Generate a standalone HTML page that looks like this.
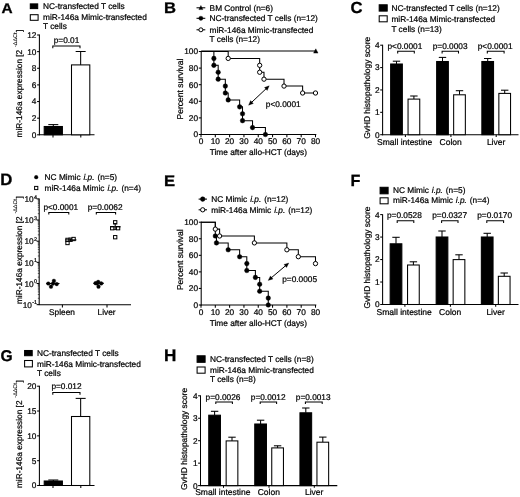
<!DOCTYPE html>
<html><head><meta charset="utf-8"><title>Figure</title>
<style>
html,body{margin:0;padding:0;background:#fff;overflow:hidden}
svg{display:block;will-change:transform}
text{font-family:"Liberation Sans",sans-serif;fill:#000;stroke:#000;stroke-width:0.22px;text-rendering:geometricPrecision}
</style></head>
<body>
<svg width="520" height="497" viewBox="0 0 520 497">
<rect x="0" y="0" width="520" height="497" fill="#fff"/>
<text transform="translate(1.40 13.40) scale(1.1 1)" font-size="14" font-weight="bold" style="stroke-width:0.3px">A</text>
<line x1="39.40" y1="34.60" x2="39.40" y2="135.25" stroke="#000" stroke-width="1.05"/>
<line x1="38.95" y1="134.80" x2="94.50" y2="134.80" stroke="#000" stroke-width="1.05"/>
<line x1="37.10" y1="134.80" x2="39.40" y2="134.80" stroke="#000" stroke-width="1.05"/>
<text x="36.40" y="137.70" font-size="8.3" text-anchor="end">0</text>
<line x1="37.10" y1="118.17" x2="39.40" y2="118.17" stroke="#000" stroke-width="1.05"/>
<text x="36.40" y="121.07" font-size="8.3" text-anchor="end">2</text>
<line x1="37.10" y1="101.53" x2="39.40" y2="101.53" stroke="#000" stroke-width="1.05"/>
<text x="36.40" y="104.43" font-size="8.3" text-anchor="end">4</text>
<line x1="37.10" y1="84.90" x2="39.40" y2="84.90" stroke="#000" stroke-width="1.05"/>
<text x="36.40" y="87.80" font-size="8.3" text-anchor="end">6</text>
<line x1="37.10" y1="68.27" x2="39.40" y2="68.27" stroke="#000" stroke-width="1.05"/>
<text x="36.40" y="71.17" font-size="8.3" text-anchor="end">8</text>
<line x1="37.10" y1="51.63" x2="39.40" y2="51.63" stroke="#000" stroke-width="1.05"/>
<text x="36.40" y="54.53" font-size="8.3" text-anchor="end">10</text>
<line x1="37.10" y1="35.00" x2="39.40" y2="35.00" stroke="#000" stroke-width="1.05"/>
<text x="36.40" y="37.90" font-size="8.3" text-anchor="end">12</text>
<line x1="53.00" y1="134.80" x2="53.00" y2="137.40" stroke="#000" stroke-width="1.05"/>
<line x1="80.80" y1="134.80" x2="80.80" y2="137.40" stroke="#000" stroke-width="1.05"/>
<line x1="53.30" y1="124.60" x2="53.30" y2="126.50" stroke="#000" stroke-width="1.05"/>
<line x1="48.30" y1="124.60" x2="58.30" y2="124.60" stroke="#000" stroke-width="1.05"/>
<rect x="44.20" y="126.50" width="18.20" height="8.30" fill="#000" stroke="#000" stroke-width="1.05"/>
<line x1="80.65" y1="51.50" x2="80.65" y2="64.90" stroke="#000" stroke-width="1.05"/>
<line x1="75.65" y1="51.50" x2="85.65" y2="51.50" stroke="#000" stroke-width="1.05"/>
<rect x="71.50" y="64.90" width="18.30" height="69.90" fill="#fff" stroke="#000" stroke-width="1.05"/>
<text x="66.50" y="42.80" font-size="8.3" text-anchor="middle">p=0.01</text>
<path d="M52.80 48.20V46.00H80.00V48.20" fill="none" stroke="#000" stroke-width="1.05" stroke-linejoin="miter"/>
<text transform="translate(22.20 137.40) rotate(-90)" font-size="8.3">miR-146a expression [2 <tspan font-size="5.4" dy="-5.0" dx="0.5" style="stroke-width:0.08px">-ΔΔCt</tspan><tspan dy="5.0" dx="0.7">]</tspan></text>
<rect x="30.30" y="3.90" width="7.40" height="4.70" fill="#000" stroke="#000" stroke-width="1.05"/>
<rect x="30.30" y="14.70" width="7.80" height="5.60" fill="#fff" stroke="#000" stroke-width="1.05"/>
<text x="43.00" y="9.00" font-size="8.3">NC-transfected T cells</text>
<text x="43.00" y="19.95" font-size="8.3">miR-146a Mimic-transfected</text>
<text x="43.00" y="28.95" font-size="8.3">T cells</text>
<text transform="translate(0.60 360.60) scale(1.0 1)" font-size="15.6" font-weight="bold" style="stroke-width:0.3px">G</text>
<line x1="39.40" y1="385.80" x2="39.40" y2="485.95" stroke="#000" stroke-width="1.05"/>
<line x1="38.95" y1="485.50" x2="94.50" y2="485.50" stroke="#000" stroke-width="1.05"/>
<line x1="37.10" y1="485.50" x2="39.40" y2="485.50" stroke="#000" stroke-width="1.05"/>
<text x="36.40" y="488.40" font-size="8.3" text-anchor="end">0</text>
<line x1="37.10" y1="460.68" x2="39.40" y2="460.68" stroke="#000" stroke-width="1.05"/>
<text x="36.40" y="463.57" font-size="8.3" text-anchor="end">5</text>
<line x1="37.10" y1="435.85" x2="39.40" y2="435.85" stroke="#000" stroke-width="1.05"/>
<text x="36.40" y="438.75" font-size="8.3" text-anchor="end">10</text>
<line x1="37.10" y1="411.02" x2="39.40" y2="411.02" stroke="#000" stroke-width="1.05"/>
<text x="36.40" y="413.92" font-size="8.3" text-anchor="end">15</text>
<line x1="37.10" y1="386.20" x2="39.40" y2="386.20" stroke="#000" stroke-width="1.05"/>
<text x="36.40" y="389.10" font-size="8.3" text-anchor="end">20</text>
<line x1="53.00" y1="485.50" x2="53.00" y2="488.10" stroke="#000" stroke-width="1.05"/>
<line x1="80.80" y1="485.50" x2="80.80" y2="488.10" stroke="#000" stroke-width="1.05"/>
<line x1="53.30" y1="480.00" x2="53.30" y2="481.00" stroke="#000" stroke-width="1.05"/>
<line x1="48.30" y1="480.00" x2="58.30" y2="480.00" stroke="#000" stroke-width="1.05"/>
<rect x="44.20" y="481.00" width="18.20" height="4.50" fill="#000" stroke="#000" stroke-width="1.05"/>
<line x1="80.65" y1="398.40" x2="80.65" y2="416.50" stroke="#000" stroke-width="1.05"/>
<line x1="75.65" y1="398.40" x2="85.65" y2="398.40" stroke="#000" stroke-width="1.05"/>
<rect x="71.50" y="416.50" width="18.30" height="69.00" fill="#fff" stroke="#000" stroke-width="1.05"/>
<text x="66.50" y="389.00" font-size="8.3" text-anchor="middle">p=0.012</text>
<path d="M52.80 394.70V392.50H80.00V394.70" fill="none" stroke="#000" stroke-width="1.05" stroke-linejoin="miter"/>
<text transform="translate(22.20 488.10) rotate(-90)" font-size="8.3">miR-146a expression [2 <tspan font-size="5.4" dy="-5.0" dx="0.5" style="stroke-width:0.08px">-ΔΔCt</tspan><tspan dy="5.0" dx="0.7">]</tspan></text>
<rect x="24.60" y="350.50" width="7.60" height="5.20" fill="#000" stroke="#000" stroke-width="1.05"/>
<rect x="24.60" y="360.50" width="7.80" height="6.40" fill="#fff" stroke="#000" stroke-width="1.05"/>
<text x="37.00" y="355.70" font-size="8.3">NC-transfected T cells</text>
<text x="37.00" y="366.80" font-size="8.3">miR-146a Mimic-transfected</text>
<text x="37.00" y="376.30" font-size="8.3">T cells</text>
<text transform="translate(164.10 13.20) scale(1.08 1)" font-size="15.4" font-weight="bold" style="stroke-width:0.3px">B</text>
<line x1="201.20" y1="51.05" x2="201.20" y2="134.95" stroke="#000" stroke-width="1.05"/>
<line x1="200.75" y1="134.50" x2="316.30" y2="134.50" stroke="#000" stroke-width="1.05"/>
<line x1="198.80" y1="134.50" x2="201.20" y2="134.50" stroke="#000" stroke-width="1.05"/>
<text x="198.00" y="137.40" font-size="8.3" text-anchor="end">0</text>
<line x1="198.80" y1="117.90" x2="201.20" y2="117.90" stroke="#000" stroke-width="1.05"/>
<text x="198.00" y="120.80" font-size="8.3" text-anchor="end">20</text>
<line x1="198.80" y1="101.30" x2="201.20" y2="101.30" stroke="#000" stroke-width="1.05"/>
<text x="198.00" y="104.20" font-size="8.3" text-anchor="end">40</text>
<line x1="198.80" y1="84.70" x2="201.20" y2="84.70" stroke="#000" stroke-width="1.05"/>
<text x="198.00" y="87.60" font-size="8.3" text-anchor="end">60</text>
<line x1="198.80" y1="68.10" x2="201.20" y2="68.10" stroke="#000" stroke-width="1.05"/>
<text x="198.00" y="71.00" font-size="8.3" text-anchor="end">80</text>
<line x1="198.80" y1="51.50" x2="201.20" y2="51.50" stroke="#000" stroke-width="1.05"/>
<text x="198.00" y="54.40" font-size="8.3" text-anchor="end">100</text>
<line x1="201.00" y1="134.50" x2="201.00" y2="137.20" stroke="#000" stroke-width="1.05"/>
<text x="201.00" y="144.30" font-size="8.3" text-anchor="middle">0</text>
<line x1="215.31" y1="134.50" x2="215.31" y2="137.20" stroke="#000" stroke-width="1.05"/>
<text x="215.31" y="144.30" font-size="8.3" text-anchor="middle">10</text>
<line x1="229.62" y1="134.50" x2="229.62" y2="137.20" stroke="#000" stroke-width="1.05"/>
<text x="229.62" y="144.30" font-size="8.3" text-anchor="middle">20</text>
<line x1="243.94" y1="134.50" x2="243.94" y2="137.20" stroke="#000" stroke-width="1.05"/>
<text x="243.94" y="144.30" font-size="8.3" text-anchor="middle">30</text>
<line x1="258.25" y1="134.50" x2="258.25" y2="137.20" stroke="#000" stroke-width="1.05"/>
<text x="258.25" y="144.30" font-size="8.3" text-anchor="middle">40</text>
<line x1="272.56" y1="134.50" x2="272.56" y2="137.20" stroke="#000" stroke-width="1.05"/>
<text x="272.56" y="144.30" font-size="8.3" text-anchor="middle">50</text>
<line x1="286.88" y1="134.50" x2="286.88" y2="137.20" stroke="#000" stroke-width="1.05"/>
<text x="286.88" y="144.30" font-size="8.3" text-anchor="middle">60</text>
<line x1="301.19" y1="134.50" x2="301.19" y2="137.20" stroke="#000" stroke-width="1.05"/>
<text x="301.19" y="144.30" font-size="8.3" text-anchor="middle">70</text>
<line x1="315.50" y1="134.50" x2="315.50" y2="137.20" stroke="#000" stroke-width="1.05"/>
<text x="315.50" y="144.30" font-size="8.3" text-anchor="middle">80</text>
<text x="258.40" y="155.20" font-size="8.3" text-anchor="middle">Time after allo-HCT (days)</text>
<text transform="translate(183.20 119.50) rotate(-90)" font-size="8.55">Percent survival</text>
<line x1="201.20" y1="51.05" x2="315.50" y2="51.05" stroke="#000" stroke-width="1.05"/>
<path d="M313.60 53.10L315.80 48.80L318.00 53.10Z" fill="#000" stroke="#000" stroke-width="0.4" stroke-linejoin="miter"/>
<path d="M201.00 51.50H213.88V65.33H218.18V79.17H225.33V93.00H228.19V99.92H239.64V106.83H242.51V120.67H252.53V127.58H265.41V134.50" fill="none" stroke="#000" stroke-width="1.05" stroke-linejoin="miter"/>
<path d="M201.00 51.50H228.19V58.42H259.68V72.25H263.98V79.17H284.01V86.08H302.62V93.00H315.50V93.00" fill="none" stroke="#000" stroke-width="1.05" stroke-linejoin="miter"/>
<circle cx="213.88" cy="58.42" r="2.3" fill="#000" stroke="#000" stroke-width="0.4"/>
<circle cx="213.88" cy="65.33" r="2.3" fill="#000" stroke="#000" stroke-width="0.4"/>
<circle cx="218.18" cy="72.25" r="2.3" fill="#000" stroke="#000" stroke-width="0.4"/>
<circle cx="218.18" cy="79.17" r="2.3" fill="#000" stroke="#000" stroke-width="0.4"/>
<circle cx="225.33" cy="86.08" r="2.3" fill="#000" stroke="#000" stroke-width="0.4"/>
<circle cx="225.33" cy="93.00" r="2.3" fill="#000" stroke="#000" stroke-width="0.4"/>
<circle cx="228.19" cy="99.92" r="2.3" fill="#000" stroke="#000" stroke-width="0.4"/>
<circle cx="239.64" cy="106.83" r="2.3" fill="#000" stroke="#000" stroke-width="0.4"/>
<circle cx="242.51" cy="113.75" r="2.3" fill="#000" stroke="#000" stroke-width="0.4"/>
<circle cx="242.51" cy="120.67" r="2.3" fill="#000" stroke="#000" stroke-width="0.4"/>
<circle cx="252.53" cy="127.58" r="2.3" fill="#000" stroke="#000" stroke-width="0.4"/>
<circle cx="265.41" cy="134.50" r="2.3" fill="#000" stroke="#000" stroke-width="0.4"/>
<circle cx="228.19" cy="58.42" r="2.15" fill="#fff" stroke="#000" stroke-width="1.0"/>
<circle cx="259.68" cy="65.33" r="2.15" fill="#fff" stroke="#000" stroke-width="1.0"/>
<circle cx="259.68" cy="72.25" r="2.15" fill="#fff" stroke="#000" stroke-width="1.0"/>
<circle cx="263.98" cy="79.17" r="2.15" fill="#fff" stroke="#000" stroke-width="1.0"/>
<circle cx="284.01" cy="86.08" r="2.15" fill="#fff" stroke="#000" stroke-width="1.0"/>
<circle cx="302.62" cy="93.00" r="2.15" fill="#fff" stroke="#000" stroke-width="1.0"/>
<circle cx="315.50" cy="93.00" r="2.15" fill="#fff" stroke="#000" stroke-width="1.0"/>
<line x1="250.06" y1="103.83" x2="267.74" y2="87.17" stroke="#000" stroke-width="1.0"/>
<path d="M269.20 85.80L267.22 90.41L264.48 87.50Z" fill="#000" stroke="#000" stroke-width="0.3" stroke-linejoin="miter"/>
<path d="M248.60 105.20L250.58 100.59L253.32 103.50Z" fill="#000" stroke="#000" stroke-width="0.3" stroke-linejoin="miter"/>
<text x="265.80" y="106.70" font-size="8.3">p&lt;0.0001</text>
<line x1="196.50" y1="7.80" x2="205.30" y2="7.80" stroke="#000" stroke-width="1.05"/>
<path d="M198.9 9.6L200.9 5.5L202.9 9.6Z" fill="#000" stroke="#000" stroke-width="0.4" stroke-linejoin="miter"/>
<text x="209.60" y="10.60" font-size="8.3">BM Control (n=6)</text>
<line x1="196.50" y1="18.30" x2="205.30" y2="18.30" stroke="#000" stroke-width="1.05"/>
<circle cx="200.90" cy="18.30" r="2.1" fill="#000" stroke="#000" stroke-width="0.4"/>
<text x="209.60" y="20.50" font-size="8.3">NC-transfected T cells (n=12)</text>
<line x1="196.50" y1="29.80" x2="205.30" y2="29.80" stroke="#000" stroke-width="1.05"/>
<circle cx="200.90" cy="29.80" r="2.0" fill="#fff" stroke="#000" stroke-width="1.0"/>
<text x="209.60" y="32.60" font-size="8.3">miR-146a Mimic-transfected</text>
<text x="209.60" y="41.80" font-size="8.3">T cells (n=12)</text>
<text transform="translate(164.10 185.80) scale(1.08 1)" font-size="15.4" font-weight="bold" style="stroke-width:0.3px">E</text>
<line x1="201.20" y1="221.75" x2="201.20" y2="305.45" stroke="#000" stroke-width="1.05"/>
<line x1="200.75" y1="305.00" x2="316.30" y2="305.00" stroke="#000" stroke-width="1.05"/>
<line x1="198.80" y1="305.00" x2="201.20" y2="305.00" stroke="#000" stroke-width="1.05"/>
<text x="198.00" y="307.90" font-size="8.3" text-anchor="end">0</text>
<line x1="198.80" y1="288.44" x2="201.20" y2="288.44" stroke="#000" stroke-width="1.05"/>
<text x="198.00" y="291.34" font-size="8.3" text-anchor="end">20</text>
<line x1="198.80" y1="271.88" x2="201.20" y2="271.88" stroke="#000" stroke-width="1.05"/>
<text x="198.00" y="274.78" font-size="8.3" text-anchor="end">40</text>
<line x1="198.80" y1="255.32" x2="201.20" y2="255.32" stroke="#000" stroke-width="1.05"/>
<text x="198.00" y="258.22" font-size="8.3" text-anchor="end">60</text>
<line x1="198.80" y1="238.76" x2="201.20" y2="238.76" stroke="#000" stroke-width="1.05"/>
<text x="198.00" y="241.66" font-size="8.3" text-anchor="end">80</text>
<line x1="198.80" y1="222.20" x2="201.20" y2="222.20" stroke="#000" stroke-width="1.05"/>
<text x="198.00" y="225.10" font-size="8.3" text-anchor="end">100</text>
<line x1="201.00" y1="305.00" x2="201.00" y2="307.70" stroke="#000" stroke-width="1.05"/>
<text x="201.00" y="314.80" font-size="8.3" text-anchor="middle">0</text>
<line x1="215.31" y1="305.00" x2="215.31" y2="307.70" stroke="#000" stroke-width="1.05"/>
<text x="215.31" y="314.80" font-size="8.3" text-anchor="middle">10</text>
<line x1="229.62" y1="305.00" x2="229.62" y2="307.70" stroke="#000" stroke-width="1.05"/>
<text x="229.62" y="314.80" font-size="8.3" text-anchor="middle">20</text>
<line x1="243.94" y1="305.00" x2="243.94" y2="307.70" stroke="#000" stroke-width="1.05"/>
<text x="243.94" y="314.80" font-size="8.3" text-anchor="middle">30</text>
<line x1="258.25" y1="305.00" x2="258.25" y2="307.70" stroke="#000" stroke-width="1.05"/>
<text x="258.25" y="314.80" font-size="8.3" text-anchor="middle">40</text>
<line x1="272.56" y1="305.00" x2="272.56" y2="307.70" stroke="#000" stroke-width="1.05"/>
<text x="272.56" y="314.80" font-size="8.3" text-anchor="middle">50</text>
<line x1="286.88" y1="305.00" x2="286.88" y2="307.70" stroke="#000" stroke-width="1.05"/>
<text x="286.88" y="314.80" font-size="8.3" text-anchor="middle">60</text>
<line x1="301.19" y1="305.00" x2="301.19" y2="307.70" stroke="#000" stroke-width="1.05"/>
<text x="301.19" y="314.80" font-size="8.3" text-anchor="middle">70</text>
<line x1="315.50" y1="305.00" x2="315.50" y2="307.70" stroke="#000" stroke-width="1.05"/>
<text x="315.50" y="314.80" font-size="8.3" text-anchor="middle">80</text>
<text x="258.40" y="326.20" font-size="8.3" text-anchor="middle">Time after allo-HCT (days)</text>
<text transform="translate(183.20 290.10) rotate(-90)" font-size="8.55">Percent survival</text>
<path d="M201.00 222.20H215.31V236.00H216.46V242.90H228.19V249.80H239.64V256.70H246.80V270.50H255.39V277.40H259.68V291.20H268.27V305.00" fill="none" stroke="#000" stroke-width="1.05" stroke-linejoin="miter"/>
<path d="M201.00 222.20H215.31V229.10H219.61V236.00H254.39V242.90H286.88V249.80H298.32V256.70H315.50V263.60" fill="none" stroke="#000" stroke-width="1.05" stroke-linejoin="miter"/>
<circle cx="215.31" cy="236.00" r="2.3" fill="#000" stroke="#000" stroke-width="0.4"/>
<circle cx="216.46" cy="242.90" r="2.3" fill="#000" stroke="#000" stroke-width="0.4"/>
<circle cx="228.19" cy="249.80" r="2.3" fill="#000" stroke="#000" stroke-width="0.4"/>
<circle cx="239.64" cy="256.70" r="2.3" fill="#000" stroke="#000" stroke-width="0.4"/>
<circle cx="246.80" cy="263.60" r="2.3" fill="#000" stroke="#000" stroke-width="0.4"/>
<circle cx="246.80" cy="270.50" r="2.3" fill="#000" stroke="#000" stroke-width="0.4"/>
<circle cx="255.39" cy="277.40" r="2.3" fill="#000" stroke="#000" stroke-width="0.4"/>
<circle cx="259.68" cy="284.30" r="2.3" fill="#000" stroke="#000" stroke-width="0.4"/>
<circle cx="259.68" cy="291.20" r="2.3" fill="#000" stroke="#000" stroke-width="0.4"/>
<circle cx="268.27" cy="298.10" r="2.3" fill="#000" stroke="#000" stroke-width="0.4"/>
<circle cx="268.27" cy="305.00" r="2.3" fill="#000" stroke="#000" stroke-width="0.4"/>
<circle cx="215.31" cy="229.10" r="2.15" fill="#fff" stroke="#000" stroke-width="1.0"/>
<circle cx="219.61" cy="236.00" r="2.15" fill="#fff" stroke="#000" stroke-width="1.0"/>
<circle cx="254.39" cy="242.90" r="2.15" fill="#fff" stroke="#000" stroke-width="1.0"/>
<circle cx="286.88" cy="249.80" r="2.15" fill="#fff" stroke="#000" stroke-width="1.0"/>
<circle cx="298.32" cy="256.70" r="2.15" fill="#fff" stroke="#000" stroke-width="1.0"/>
<circle cx="315.50" cy="263.60" r="2.15" fill="#fff" stroke="#000" stroke-width="1.0"/>
<line x1="269.73" y1="279.11" x2="287.27" y2="264.29" stroke="#000" stroke-width="1.0"/>
<path d="M288.80 263.00L286.58 267.50L284.00 264.44Z" fill="#000" stroke="#000" stroke-width="0.3" stroke-linejoin="miter"/>
<path d="M268.20 280.40L270.42 275.90L273.00 278.96Z" fill="#000" stroke="#000" stroke-width="0.3" stroke-linejoin="miter"/>
<text x="282.20" y="282.20" font-size="8.3">p=0.0005</text>
<line x1="198.60" y1="199.10" x2="207.00" y2="199.10" stroke="#000" stroke-width="1.05"/>
<circle cx="202.70" cy="199.10" r="2.3" fill="#000" stroke="#000" stroke-width="0.5"/>
<text x="211.30" y="201.90" font-size="8.3">NC Mimic <tspan font-style="italic" dx="0.6">i.p.</tspan><tspan dx="0.6"> (n=12)</tspan></text>
<line x1="198.60" y1="209.80" x2="207.00" y2="209.80" stroke="#000" stroke-width="1.05"/>
<circle cx="202.70" cy="209.80" r="2.15" fill="#fff" stroke="#000" stroke-width="1.0"/>
<text x="211.30" y="212.50" font-size="8.3">miR-146a Mimic <tspan font-style="italic" dx="0.6">i.p.</tspan><tspan dx="0.6"> (n=12)</tspan></text>
<text transform="translate(350.60 13.00) scale(1.04 1)" font-size="16.0" font-weight="bold" style="stroke-width:0.3px">C</text>
<line x1="382.60" y1="44.75" x2="382.60" y2="135.15" stroke="#000" stroke-width="1.05"/>
<line x1="382.15" y1="134.70" x2="518.50" y2="134.70" stroke="#000" stroke-width="1.05"/>
<line x1="380.20" y1="134.70" x2="382.60" y2="134.70" stroke="#000" stroke-width="1.05"/>
<text x="379.60" y="137.60" font-size="8.3" text-anchor="end">0</text>
<line x1="380.20" y1="112.32" x2="382.60" y2="112.32" stroke="#000" stroke-width="1.05"/>
<text x="379.60" y="115.22" font-size="8.3" text-anchor="end">1</text>
<line x1="380.20" y1="89.95" x2="382.60" y2="89.95" stroke="#000" stroke-width="1.05"/>
<text x="379.60" y="92.85" font-size="8.3" text-anchor="end">2</text>
<line x1="380.20" y1="67.58" x2="382.60" y2="67.58" stroke="#000" stroke-width="1.05"/>
<text x="379.60" y="70.48" font-size="8.3" text-anchor="end">3</text>
<line x1="380.20" y1="45.20" x2="382.60" y2="45.20" stroke="#000" stroke-width="1.05"/>
<text x="379.60" y="48.10" font-size="8.3" text-anchor="end">4</text>
<line x1="396.50" y1="61.20" x2="396.50" y2="64.00" stroke="#000" stroke-width="1.05"/>
<line x1="392.80" y1="61.20" x2="400.20" y2="61.20" stroke="#000" stroke-width="1.05"/>
<rect x="390.65" y="64.00" width="11.70" height="70.70" fill="#000" stroke="#000" stroke-width="1.05"/>
<line x1="413.90" y1="96.00" x2="413.90" y2="99.10" stroke="#000" stroke-width="1.05"/>
<line x1="410.20" y1="96.00" x2="417.60" y2="96.00" stroke="#000" stroke-width="1.05"/>
<rect x="408.05" y="99.10" width="11.70" height="35.60" fill="#fff" stroke="#000" stroke-width="1.05"/>
<line x1="442.50" y1="57.40" x2="442.50" y2="61.50" stroke="#000" stroke-width="1.05"/>
<line x1="438.80" y1="57.40" x2="446.20" y2="57.40" stroke="#000" stroke-width="1.05"/>
<rect x="436.65" y="61.50" width="11.70" height="73.20" fill="#000" stroke="#000" stroke-width="1.05"/>
<line x1="459.50" y1="90.70" x2="459.50" y2="94.80" stroke="#000" stroke-width="1.05"/>
<line x1="455.80" y1="90.70" x2="463.20" y2="90.70" stroke="#000" stroke-width="1.05"/>
<rect x="453.65" y="94.80" width="11.70" height="39.90" fill="#fff" stroke="#000" stroke-width="1.05"/>
<line x1="487.70" y1="58.50" x2="487.70" y2="61.50" stroke="#000" stroke-width="1.05"/>
<line x1="484.00" y1="58.50" x2="491.40" y2="58.50" stroke="#000" stroke-width="1.05"/>
<rect x="481.85" y="61.50" width="11.70" height="73.20" fill="#000" stroke="#000" stroke-width="1.05"/>
<line x1="504.70" y1="90.20" x2="504.70" y2="93.40" stroke="#000" stroke-width="1.05"/>
<line x1="501.00" y1="90.20" x2="508.40" y2="90.20" stroke="#000" stroke-width="1.05"/>
<rect x="498.85" y="93.40" width="11.70" height="41.30" fill="#fff" stroke="#000" stroke-width="1.05"/>
<text x="404.90" y="48.70" font-size="8.3" text-anchor="middle">p&lt;0.0001</text>
<path d="M397.70 53.50V51.30H414.30V53.50" fill="none" stroke="#000" stroke-width="1.05" stroke-linejoin="miter"/>
<text x="450.10" y="48.70" font-size="8.3" text-anchor="middle">p=0.0003</text>
<path d="M442.10 53.50V51.30H458.50V53.50" fill="none" stroke="#000" stroke-width="1.05" stroke-linejoin="miter"/>
<text x="495.10" y="48.70" font-size="8.3" text-anchor="middle">p&lt;0.0001</text>
<path d="M487.30 53.50V51.30H504.10V53.50" fill="none" stroke="#000" stroke-width="1.05" stroke-linejoin="miter"/>
<line x1="405.40" y1="134.70" x2="405.40" y2="136.90" stroke="#000" stroke-width="1.05"/>
<line x1="450.90" y1="134.70" x2="450.90" y2="136.90" stroke="#000" stroke-width="1.05"/>
<line x1="496.20" y1="134.70" x2="496.20" y2="136.90" stroke="#000" stroke-width="1.05"/>
<text x="404.70" y="144.60" font-size="8.5" text-anchor="middle">Small intestine</text>
<text x="450.70" y="144.60" font-size="8.5" text-anchor="middle">Colon</text>
<text x="496.10" y="144.60" font-size="8.5" text-anchor="middle">Liver</text>
<text transform="translate(370.30 138.80) rotate(-90)" font-size="8.4">GvHD histopathology score</text>
<rect x="379.20" y="4.80" width="8.00" height="6.30" fill="#000" stroke="#000" stroke-width="1.05"/>
<rect x="379.20" y="15.80" width="8.00" height="6.00" fill="#fff" stroke="#000" stroke-width="1.05"/>
<text x="391.40" y="11.20" font-size="8.3">NC-transfected T cells (n=12)</text>
<text x="391.40" y="21.70" font-size="8.3">miR-146a Mimic-transfected</text>
<text x="391.40" y="31.60" font-size="8.3">T cells (n=13)</text>
<text transform="translate(350.40 186.30) scale(1.0 1)" font-size="16.2" font-weight="bold" style="stroke-width:0.3px">F</text>
<line x1="382.60" y1="214.15" x2="382.60" y2="304.95" stroke="#000" stroke-width="1.05"/>
<line x1="382.15" y1="304.50" x2="518.50" y2="304.50" stroke="#000" stroke-width="1.05"/>
<line x1="380.20" y1="304.50" x2="382.60" y2="304.50" stroke="#000" stroke-width="1.05"/>
<text x="379.60" y="307.40" font-size="8.3" text-anchor="end">0</text>
<line x1="380.20" y1="282.02" x2="382.60" y2="282.02" stroke="#000" stroke-width="1.05"/>
<text x="379.60" y="284.92" font-size="8.3" text-anchor="end">1</text>
<line x1="380.20" y1="259.55" x2="382.60" y2="259.55" stroke="#000" stroke-width="1.05"/>
<text x="379.60" y="262.45" font-size="8.3" text-anchor="end">2</text>
<line x1="380.20" y1="237.07" x2="382.60" y2="237.07" stroke="#000" stroke-width="1.05"/>
<text x="379.60" y="239.97" font-size="8.3" text-anchor="end">3</text>
<line x1="380.20" y1="214.60" x2="382.60" y2="214.60" stroke="#000" stroke-width="1.05"/>
<text x="379.60" y="217.50" font-size="8.3" text-anchor="end">4</text>
<line x1="396.00" y1="237.30" x2="396.00" y2="243.80" stroke="#000" stroke-width="1.05"/>
<line x1="392.30" y1="237.30" x2="399.70" y2="237.30" stroke="#000" stroke-width="1.05"/>
<rect x="390.15" y="243.80" width="11.70" height="60.70" fill="#000" stroke="#000" stroke-width="1.05"/>
<line x1="413.40" y1="261.80" x2="413.40" y2="265.00" stroke="#000" stroke-width="1.05"/>
<line x1="409.70" y1="261.80" x2="417.10" y2="261.80" stroke="#000" stroke-width="1.05"/>
<rect x="407.55" y="265.00" width="11.70" height="39.50" fill="#fff" stroke="#000" stroke-width="1.05"/>
<line x1="442.00" y1="231.00" x2="442.00" y2="237.00" stroke="#000" stroke-width="1.05"/>
<line x1="438.30" y1="231.00" x2="445.70" y2="231.00" stroke="#000" stroke-width="1.05"/>
<rect x="436.15" y="237.00" width="11.70" height="67.50" fill="#000" stroke="#000" stroke-width="1.05"/>
<line x1="459.00" y1="254.80" x2="459.00" y2="259.60" stroke="#000" stroke-width="1.05"/>
<line x1="455.30" y1="254.80" x2="462.70" y2="254.80" stroke="#000" stroke-width="1.05"/>
<rect x="453.15" y="259.60" width="11.70" height="44.90" fill="#fff" stroke="#000" stroke-width="1.05"/>
<line x1="487.20" y1="233.30" x2="487.20" y2="237.00" stroke="#000" stroke-width="1.05"/>
<line x1="483.50" y1="233.30" x2="490.90" y2="233.30" stroke="#000" stroke-width="1.05"/>
<rect x="481.35" y="237.00" width="11.70" height="67.50" fill="#000" stroke="#000" stroke-width="1.05"/>
<line x1="504.20" y1="273.00" x2="504.20" y2="276.30" stroke="#000" stroke-width="1.05"/>
<line x1="500.50" y1="273.00" x2="507.90" y2="273.00" stroke="#000" stroke-width="1.05"/>
<rect x="498.35" y="276.30" width="11.70" height="28.20" fill="#fff" stroke="#000" stroke-width="1.05"/>
<text x="404.40" y="218.40" font-size="8.3" text-anchor="middle">p=0.0528</text>
<path d="M397.20 223.00V220.80H413.80V223.00" fill="none" stroke="#000" stroke-width="1.05" stroke-linejoin="miter"/>
<text x="449.60" y="218.40" font-size="8.3" text-anchor="middle">p=0.0327</text>
<path d="M441.60 223.00V220.80H458.00V223.00" fill="none" stroke="#000" stroke-width="1.05" stroke-linejoin="miter"/>
<text x="494.60" y="218.40" font-size="8.3" text-anchor="middle">p=0.0170</text>
<path d="M486.80 223.00V220.80H503.60V223.00" fill="none" stroke="#000" stroke-width="1.05" stroke-linejoin="miter"/>
<line x1="404.90" y1="304.50" x2="404.90" y2="306.70" stroke="#000" stroke-width="1.05"/>
<line x1="450.40" y1="304.50" x2="450.40" y2="306.70" stroke="#000" stroke-width="1.05"/>
<line x1="495.70" y1="304.50" x2="495.70" y2="306.70" stroke="#000" stroke-width="1.05"/>
<text x="404.20" y="314.80" font-size="8.5" text-anchor="middle">Small intestine</text>
<text x="450.20" y="314.80" font-size="8.5" text-anchor="middle">Colon</text>
<text x="495.60" y="314.80" font-size="8.5" text-anchor="middle">Liver</text>
<text transform="translate(369.60 308.60) rotate(-90)" font-size="8.4">GvHD histopathology score</text>
<rect x="380.10" y="187.30" width="8.00" height="6.50" fill="#000" stroke="#000" stroke-width="1.05"/>
<rect x="380.10" y="197.80" width="8.00" height="6.00" fill="#fff" stroke="#000" stroke-width="1.05"/>
<text x="393.00" y="193.20" font-size="8.3">NC Mimic <tspan font-style="italic" dx="0.6">i.p.</tspan><tspan dx="0.6"> (n=5)</tspan></text>
<text x="393.00" y="203.40" font-size="8.3">miR-146a Mimic <tspan font-style="italic" dx="0.6">i.p.</tspan><tspan dx="0.6"> (n=4)</tspan></text>
<text transform="translate(164.00 361.00) scale(1.02 1)" font-size="16.8" font-weight="bold" style="stroke-width:0.3px">H</text>
<line x1="200.50" y1="395.35" x2="200.50" y2="486.05" stroke="#000" stroke-width="1.05"/>
<line x1="200.05" y1="485.60" x2="337.30" y2="485.60" stroke="#000" stroke-width="1.05"/>
<line x1="198.10" y1="485.60" x2="200.50" y2="485.60" stroke="#000" stroke-width="1.05"/>
<text x="197.50" y="488.50" font-size="8.3" text-anchor="end">0</text>
<line x1="198.10" y1="463.15" x2="200.50" y2="463.15" stroke="#000" stroke-width="1.05"/>
<text x="197.50" y="466.05" font-size="8.3" text-anchor="end">1</text>
<line x1="198.10" y1="440.70" x2="200.50" y2="440.70" stroke="#000" stroke-width="1.05"/>
<text x="197.50" y="443.60" font-size="8.3" text-anchor="end">2</text>
<line x1="198.10" y1="418.25" x2="200.50" y2="418.25" stroke="#000" stroke-width="1.05"/>
<text x="197.50" y="421.15" font-size="8.3" text-anchor="end">3</text>
<line x1="198.10" y1="395.80" x2="200.50" y2="395.80" stroke="#000" stroke-width="1.05"/>
<text x="197.50" y="398.70" font-size="8.3" text-anchor="end">4</text>
<line x1="214.60" y1="411.30" x2="214.60" y2="415.20" stroke="#000" stroke-width="1.05"/>
<line x1="210.90" y1="411.30" x2="218.30" y2="411.30" stroke="#000" stroke-width="1.05"/>
<rect x="208.75" y="415.20" width="11.70" height="70.40" fill="#000" stroke="#000" stroke-width="1.05"/>
<line x1="232.00" y1="437.20" x2="232.00" y2="440.90" stroke="#000" stroke-width="1.05"/>
<line x1="228.30" y1="437.20" x2="235.70" y2="437.20" stroke="#000" stroke-width="1.05"/>
<rect x="226.15" y="440.90" width="11.70" height="44.70" fill="#fff" stroke="#000" stroke-width="1.05"/>
<line x1="260.60" y1="420.20" x2="260.60" y2="424.00" stroke="#000" stroke-width="1.05"/>
<line x1="256.90" y1="420.20" x2="264.30" y2="420.20" stroke="#000" stroke-width="1.05"/>
<rect x="254.75" y="424.00" width="11.70" height="61.60" fill="#000" stroke="#000" stroke-width="1.05"/>
<line x1="277.60" y1="445.80" x2="277.60" y2="447.90" stroke="#000" stroke-width="1.05"/>
<line x1="273.90" y1="445.80" x2="281.30" y2="445.80" stroke="#000" stroke-width="1.05"/>
<rect x="271.75" y="447.90" width="11.70" height="37.70" fill="#fff" stroke="#000" stroke-width="1.05"/>
<line x1="305.80" y1="408.00" x2="305.80" y2="412.80" stroke="#000" stroke-width="1.05"/>
<line x1="302.10" y1="408.00" x2="309.50" y2="408.00" stroke="#000" stroke-width="1.05"/>
<rect x="299.95" y="412.80" width="11.70" height="72.80" fill="#000" stroke="#000" stroke-width="1.05"/>
<line x1="322.80" y1="437.10" x2="322.80" y2="442.20" stroke="#000" stroke-width="1.05"/>
<line x1="319.10" y1="437.10" x2="326.50" y2="437.10" stroke="#000" stroke-width="1.05"/>
<rect x="316.95" y="442.20" width="11.70" height="43.40" fill="#fff" stroke="#000" stroke-width="1.05"/>
<text x="223.00" y="399.80" font-size="8.3" text-anchor="middle">p=0.0026</text>
<path d="M215.80 404.10V401.90H232.40V404.10" fill="none" stroke="#000" stroke-width="1.05" stroke-linejoin="miter"/>
<text x="268.20" y="399.80" font-size="8.3" text-anchor="middle">p=0.0012</text>
<path d="M260.20 404.10V401.90H276.60V404.10" fill="none" stroke="#000" stroke-width="1.05" stroke-linejoin="miter"/>
<text x="313.20" y="399.80" font-size="8.3" text-anchor="middle">p=0.0013</text>
<path d="M305.40 404.10V401.90H322.20V404.10" fill="none" stroke="#000" stroke-width="1.05" stroke-linejoin="miter"/>
<line x1="223.50" y1="485.60" x2="223.50" y2="487.80" stroke="#000" stroke-width="1.05"/>
<line x1="269.00" y1="485.60" x2="269.00" y2="487.80" stroke="#000" stroke-width="1.05"/>
<line x1="314.30" y1="485.60" x2="314.30" y2="487.80" stroke="#000" stroke-width="1.05"/>
<text x="222.80" y="495.30" font-size="8.5" text-anchor="middle">Small intestine</text>
<text x="268.80" y="495.30" font-size="8.5" text-anchor="middle">Colon</text>
<text x="314.20" y="495.30" font-size="8.5" text-anchor="middle">Liver</text>
<text transform="translate(187.30 489.90) rotate(-90)" font-size="8.4">GvHD histopathology score</text>
<rect x="197.10" y="355.80" width="8.00" height="6.50" fill="#000" stroke="#000" stroke-width="1.05"/>
<rect x="197.10" y="367.00" width="8.00" height="6.20" fill="#fff" stroke="#000" stroke-width="1.05"/>
<text x="210.00" y="362.20" font-size="8.3">NC-transfected T cells (n=8)</text>
<text x="210.00" y="372.60" font-size="8.3">miR-146a Mimic-transfected</text>
<text x="210.00" y="382.00" font-size="8.3">T cells (n=8)</text>
<text transform="translate(0.20 185.20) scale(1.02 1)" font-size="16.4" font-weight="bold" style="stroke-width:0.3px">D</text>
<line x1="39.20" y1="198.45" x2="39.20" y2="305.10" stroke="#000" stroke-width="1.05"/>
<line x1="38.75" y1="304.65" x2="131.00" y2="304.65" stroke="#000" stroke-width="1.05"/>
<line x1="36.60" y1="304.65" x2="39.20" y2="304.65" stroke="#000" stroke-width="1.05"/>
<text x="37.00" y="304.45" font-size="5.4" text-anchor="end">-1</text>
<text x="31.90" y="307.85" font-size="8.3" text-anchor="end">10</text>
<line x1="37.80" y1="298.28" x2="39.20" y2="298.28" stroke="#000" stroke-width="0.6"/>
<line x1="37.80" y1="294.56" x2="39.20" y2="294.56" stroke="#000" stroke-width="0.6"/>
<line x1="37.80" y1="291.92" x2="39.20" y2="291.92" stroke="#000" stroke-width="0.6"/>
<line x1="37.80" y1="289.87" x2="39.20" y2="289.87" stroke="#000" stroke-width="0.6"/>
<line x1="37.80" y1="288.19" x2="39.20" y2="288.19" stroke="#000" stroke-width="0.6"/>
<line x1="37.80" y1="286.78" x2="39.20" y2="286.78" stroke="#000" stroke-width="0.6"/>
<line x1="37.80" y1="285.55" x2="39.20" y2="285.55" stroke="#000" stroke-width="0.6"/>
<line x1="37.80" y1="284.47" x2="39.20" y2="284.47" stroke="#000" stroke-width="0.6"/>
<line x1="36.60" y1="283.50" x2="39.20" y2="283.50" stroke="#000" stroke-width="1.05"/>
<text x="37.00" y="283.30" font-size="5.4" text-anchor="end">0</text>
<text x="33.70" y="286.70" font-size="8.3" text-anchor="end">10</text>
<line x1="37.80" y1="277.13" x2="39.20" y2="277.13" stroke="#000" stroke-width="0.6"/>
<line x1="37.80" y1="273.41" x2="39.20" y2="273.41" stroke="#000" stroke-width="0.6"/>
<line x1="37.80" y1="270.77" x2="39.20" y2="270.77" stroke="#000" stroke-width="0.6"/>
<line x1="37.80" y1="268.72" x2="39.20" y2="268.72" stroke="#000" stroke-width="0.6"/>
<line x1="37.80" y1="267.04" x2="39.20" y2="267.04" stroke="#000" stroke-width="0.6"/>
<line x1="37.80" y1="265.63" x2="39.20" y2="265.63" stroke="#000" stroke-width="0.6"/>
<line x1="37.80" y1="264.40" x2="39.20" y2="264.40" stroke="#000" stroke-width="0.6"/>
<line x1="37.80" y1="263.32" x2="39.20" y2="263.32" stroke="#000" stroke-width="0.6"/>
<line x1="36.60" y1="262.35" x2="39.20" y2="262.35" stroke="#000" stroke-width="1.05"/>
<text x="37.00" y="262.15" font-size="5.4" text-anchor="end">1</text>
<text x="33.70" y="265.55" font-size="8.3" text-anchor="end">10</text>
<line x1="37.80" y1="255.98" x2="39.20" y2="255.98" stroke="#000" stroke-width="0.6"/>
<line x1="37.80" y1="252.26" x2="39.20" y2="252.26" stroke="#000" stroke-width="0.6"/>
<line x1="37.80" y1="249.62" x2="39.20" y2="249.62" stroke="#000" stroke-width="0.6"/>
<line x1="37.80" y1="247.57" x2="39.20" y2="247.57" stroke="#000" stroke-width="0.6"/>
<line x1="37.80" y1="245.89" x2="39.20" y2="245.89" stroke="#000" stroke-width="0.6"/>
<line x1="37.80" y1="244.48" x2="39.20" y2="244.48" stroke="#000" stroke-width="0.6"/>
<line x1="37.80" y1="243.25" x2="39.20" y2="243.25" stroke="#000" stroke-width="0.6"/>
<line x1="37.80" y1="242.17" x2="39.20" y2="242.17" stroke="#000" stroke-width="0.6"/>
<line x1="36.60" y1="241.20" x2="39.20" y2="241.20" stroke="#000" stroke-width="1.05"/>
<text x="37.00" y="241.00" font-size="5.4" text-anchor="end">2</text>
<text x="33.70" y="244.40" font-size="8.3" text-anchor="end">10</text>
<line x1="37.80" y1="234.83" x2="39.20" y2="234.83" stroke="#000" stroke-width="0.6"/>
<line x1="37.80" y1="231.11" x2="39.20" y2="231.11" stroke="#000" stroke-width="0.6"/>
<line x1="37.80" y1="228.47" x2="39.20" y2="228.47" stroke="#000" stroke-width="0.6"/>
<line x1="37.80" y1="226.42" x2="39.20" y2="226.42" stroke="#000" stroke-width="0.6"/>
<line x1="37.80" y1="224.74" x2="39.20" y2="224.74" stroke="#000" stroke-width="0.6"/>
<line x1="37.80" y1="223.33" x2="39.20" y2="223.33" stroke="#000" stroke-width="0.6"/>
<line x1="37.80" y1="222.10" x2="39.20" y2="222.10" stroke="#000" stroke-width="0.6"/>
<line x1="37.80" y1="221.02" x2="39.20" y2="221.02" stroke="#000" stroke-width="0.6"/>
<line x1="36.60" y1="220.05" x2="39.20" y2="220.05" stroke="#000" stroke-width="1.05"/>
<text x="37.00" y="219.85" font-size="5.4" text-anchor="end">3</text>
<text x="33.70" y="223.25" font-size="8.3" text-anchor="end">10</text>
<line x1="37.80" y1="213.68" x2="39.20" y2="213.68" stroke="#000" stroke-width="0.6"/>
<line x1="37.80" y1="209.96" x2="39.20" y2="209.96" stroke="#000" stroke-width="0.6"/>
<line x1="37.80" y1="207.32" x2="39.20" y2="207.32" stroke="#000" stroke-width="0.6"/>
<line x1="37.80" y1="205.27" x2="39.20" y2="205.27" stroke="#000" stroke-width="0.6"/>
<line x1="37.80" y1="203.59" x2="39.20" y2="203.59" stroke="#000" stroke-width="0.6"/>
<line x1="37.80" y1="202.18" x2="39.20" y2="202.18" stroke="#000" stroke-width="0.6"/>
<line x1="37.80" y1="200.95" x2="39.20" y2="200.95" stroke="#000" stroke-width="0.6"/>
<line x1="37.80" y1="199.87" x2="39.20" y2="199.87" stroke="#000" stroke-width="0.6"/>
<line x1="36.60" y1="198.90" x2="39.20" y2="198.90" stroke="#000" stroke-width="1.05"/>
<text x="37.00" y="198.70" font-size="5.4" text-anchor="end">4</text>
<text x="33.70" y="202.10" font-size="8.3" text-anchor="end">10</text>
<line x1="62.40" y1="304.65" x2="62.40" y2="307.45" stroke="#000" stroke-width="1.05"/>
<line x1="107.00" y1="304.65" x2="107.00" y2="307.45" stroke="#000" stroke-width="1.05"/>
<text x="62.00" y="314.60" font-size="8.3" text-anchor="middle">Spleen</text>
<text x="106.60" y="314.60" font-size="8.3" text-anchor="middle">Liver</text>
<text transform="translate(22.20 304.05) rotate(-90)" font-size="8.3">miR-146a expression [2 <tspan font-size="5.4" dy="-5.0" dx="0.5" style="stroke-width:0.08px">-ΔΔCt</tspan><tspan dy="5.0" dx="0.7">]</tspan></text>
<text x="60.80" y="209.60" font-size="8.3" text-anchor="middle">p&lt;0.0001</text>
<path d="M48.80 214.60V212.40H68.80V214.60" fill="none" stroke="#000" stroke-width="1.05" stroke-linejoin="miter"/>
<text x="105.10" y="209.60" font-size="8.3" text-anchor="middle">p=0.0062</text>
<path d="M96.30 214.60V212.40H115.60V214.60" fill="none" stroke="#000" stroke-width="1.05" stroke-linejoin="miter"/>
<circle cx="48.30" cy="283.50" r="1.85" fill="#000" stroke="#000" stroke-width="0.3"/>
<circle cx="51.00" cy="286.70" r="1.85" fill="#000" stroke="#000" stroke-width="0.3"/>
<circle cx="53.90" cy="280.80" r="1.85" fill="#000" stroke="#000" stroke-width="0.3"/>
<circle cx="56.70" cy="284.10" r="1.85" fill="#000" stroke="#000" stroke-width="0.3"/>
<circle cx="53.00" cy="283.60" r="1.85" fill="#000" stroke="#000" stroke-width="0.3"/>
<line x1="46.20" y1="283.50" x2="59.50" y2="283.50" stroke="#000" stroke-width="1.1"/>
<circle cx="95.60" cy="283.20" r="1.85" fill="#000" stroke="#000" stroke-width="0.3"/>
<circle cx="98.50" cy="286.70" r="1.85" fill="#000" stroke="#000" stroke-width="0.3"/>
<circle cx="101.20" cy="283.40" r="1.85" fill="#000" stroke="#000" stroke-width="0.3"/>
<circle cx="98.20" cy="281.90" r="1.85" fill="#000" stroke="#000" stroke-width="0.3"/>
<circle cx="97.00" cy="283.50" r="1.85" fill="#000" stroke="#000" stroke-width="0.3"/>
<line x1="93.30" y1="283.30" x2="103.90" y2="283.30" stroke="#000" stroke-width="1.1"/>
<rect x="65.85" y="241.35" width="3.30" height="3.30" fill="#fff" stroke="#000" stroke-width="1.0"/>
<rect x="65.85" y="238.25" width="3.30" height="3.30" fill="#fff" stroke="#000" stroke-width="1.0"/>
<rect x="68.95" y="238.05" width="3.30" height="3.30" fill="#fff" stroke="#000" stroke-width="1.0"/>
<rect x="71.95" y="237.35" width="3.30" height="3.30" fill="#fff" stroke="#000" stroke-width="1.0"/>
<line x1="65.20" y1="239.90" x2="76.40" y2="239.90" stroke="#000" stroke-width="1.1"/>
<line x1="70.60" y1="239.00" x2="70.60" y2="241.00" stroke="#000" stroke-width="1.0"/>
<line x1="69.20" y1="239.00" x2="72.00" y2="239.00" stroke="#000" stroke-width="0.9"/>
<line x1="69.20" y1="241.00" x2="72.00" y2="241.00" stroke="#000" stroke-width="0.9"/>
<rect x="113.55" y="235.55" width="3.30" height="3.30" fill="#fff" stroke="#000" stroke-width="1.0"/>
<rect x="110.55" y="226.55" width="3.30" height="3.30" fill="#fff" stroke="#000" stroke-width="1.0"/>
<rect x="116.45" y="226.55" width="3.30" height="3.30" fill="#fff" stroke="#000" stroke-width="1.0"/>
<rect x="113.55" y="220.65" width="3.30" height="3.30" fill="#fff" stroke="#000" stroke-width="1.0"/>
<line x1="110.50" y1="226.80" x2="120.60" y2="226.80" stroke="#000" stroke-width="1.1"/>
<line x1="115.20" y1="223.60" x2="115.20" y2="229.60" stroke="#000" stroke-width="1.0"/>
<line x1="113.60" y1="223.60" x2="116.80" y2="223.60" stroke="#000" stroke-width="0.9"/>
<line x1="113.60" y1="229.60" x2="116.80" y2="229.60" stroke="#000" stroke-width="0.9"/>
<circle cx="36.20" cy="177.20" r="1.85" fill="#000" stroke="#000" stroke-width="0.3"/>
<rect x="34.60" y="186.40" width="3.20" height="3.20" fill="#fff" stroke="#000" stroke-width="1.0"/>
<text x="44.60" y="179.70" font-size="8.3">NC Mimic <tspan font-style="italic" dx="0.6">i.p.</tspan><tspan dx="0.6"> (n=5)</tspan></text>
<text x="44.60" y="190.70" font-size="8.3">miR-146a Mimic <tspan font-style="italic" dx="0.6">i.p.</tspan><tspan dx="0.6"> (n=4)</tspan></text>
</svg>
</body></html>
